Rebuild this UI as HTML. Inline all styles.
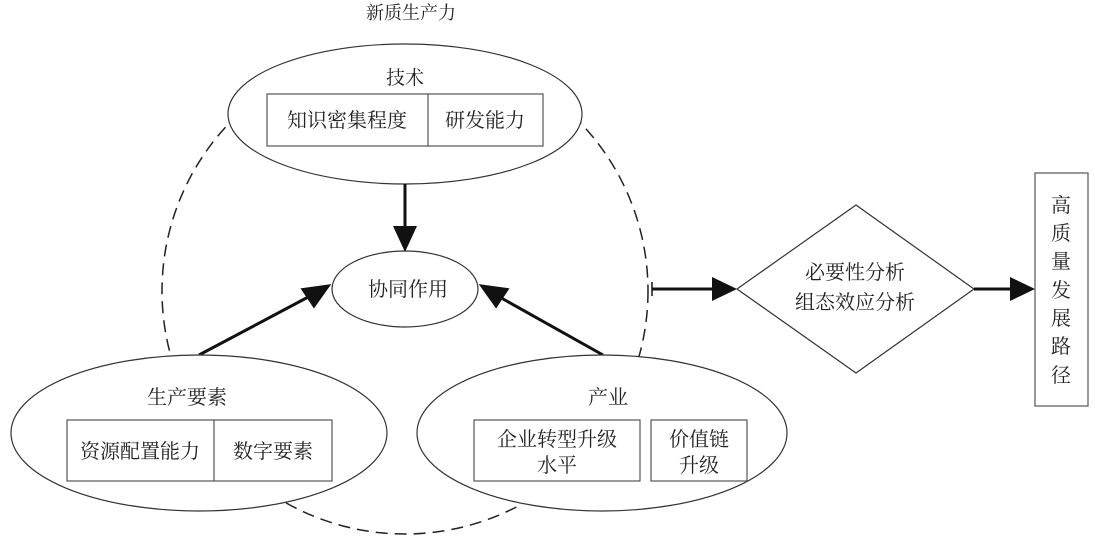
<!DOCTYPE html>
<html><head><meta charset="utf-8"><style>
html,body{margin:0;padding:0;background:#fff;}
svg{display:block;}
text{font-family:"Liberation Serif","Noto Serif CJK SC","Noto Sans CJK SC",serif;fill:#222;text-anchor:middle;}
</style></head><body>
<svg width="1095" height="537" viewBox="0 0 1095 537" xmlns="http://www.w3.org/2000/svg">
<defs>
<marker id="ah" markerWidth="10" markerHeight="8" refX="9.5" refY="4" orient="auto" markerUnits="userSpaceOnUse" viewBox="0 0 10 8">
</marker>
</defs>
<text x="411" y="19" font-size="18">新质生产力</text>
<circle cx="405" cy="291" r="243" fill="none" stroke="#222" stroke-width="1.5" stroke-dasharray="12,7"/>
<!-- top ellipse -->
<ellipse cx="405" cy="114" rx="177" ry="70" fill="#fff" stroke="#333" stroke-width="1.2"/>
<text x="405" y="84" font-size="19">技术</text>
<rect x="267" y="94" width="276" height="52" fill="#fff" stroke="#555" stroke-width="1.2"/>
<line x1="428" y1="94" x2="428" y2="146" stroke="#555" stroke-width="1.2"/>
<text x="347" y="127" font-size="20">知识密集程度</text>
<text x="485" y="127" font-size="20">研发能力</text>
<!-- center -->
<ellipse cx="405" cy="289" rx="73" ry="38" fill="#fff" stroke="#333" stroke-width="1.2"/>
<text x="408" y="296" font-size="20">协同作用</text>
<!-- arrows -->
<line x1="405" y1="184" x2="405" y2="230" stroke="#111" stroke-width="3"/>
<polygon points="393,226 417,226 405,252" fill="#111"/>
<line x1="199" y1="355" x2="312" y2="295" stroke="#111" stroke-width="3"/>
<polygon points="332,285 301,287 313,308" fill="#111" transform="rotate(-4 320 295)"/>
<line x1="603" y1="355" x2="496" y2="295" stroke="#111" stroke-width="3"/>
<polygon points="478,285 509,287 497,308" fill="#111" transform="rotate(4 490 295)"/>
<!-- left ellipse -->
<ellipse cx="199" cy="433" rx="188" ry="78" fill="#fff" stroke="#333" stroke-width="1.2"/>
<text x="187" y="404" font-size="20">生产要素</text>
<rect x="67" y="420" width="265" height="61" fill="#fff" stroke="#555" stroke-width="1.2"/>
<line x1="214" y1="420" x2="214" y2="481" stroke="#555" stroke-width="1.2"/>
<text x="140" y="458" font-size="20">资源配置能力</text>
<text x="273" y="458" font-size="20">数字要素</text>
<!-- right ellipse -->
<ellipse cx="602" cy="433" rx="185" ry="78" fill="#fff" stroke="#333" stroke-width="1.2"/>
<text x="608" y="404" font-size="20">产业</text>
<rect x="474" y="420" width="166" height="61" fill="#fff" stroke="#555" stroke-width="1.2"/>
<rect x="651" y="420" width="96" height="61" fill="#fff" stroke="#555" stroke-width="1.2"/>
<text x="557" y="446" font-size="20">企业转型升级</text>
<text x="557" y="472" font-size="20">水平</text>
<text x="699" y="446" font-size="20">价值链</text>
<text x="699" y="472" font-size="20">升级</text>
<!-- to diamond -->
<line x1="652" y1="282" x2="652" y2="296" stroke="#111" stroke-width="1.5"/>
<line x1="652" y1="289" x2="716" y2="289" stroke="#111" stroke-width="3"/>
<polygon points="712,277 712,301 737,289" fill="#111"/>
<polygon points="737,289 856,205 974,289 856,373" fill="#fff" stroke="#333" stroke-width="1.2"/>
<text x="855" y="279" font-size="20">必要性分析</text>
<text x="855" y="309" font-size="20">组态效应分析</text>
<line x1="974" y1="289" x2="1014" y2="289" stroke="#111" stroke-width="3"/>
<polygon points="1010,277 1010,301 1035,289" fill="#111"/>
<rect x="1035" y="173" width="53" height="233" fill="#fff" stroke="#555" stroke-width="1.2"/>
<g font-size="20">
<text x="1061" y="212">高</text>
<text x="1061" y="240">质</text>
<text x="1061" y="268">量</text>
<text x="1061" y="297">发</text>
<text x="1061" y="325">展</text>
<text x="1061" y="353">路</text>
<text x="1061" y="382">径</text>
</g>
</svg>
</body></html>
